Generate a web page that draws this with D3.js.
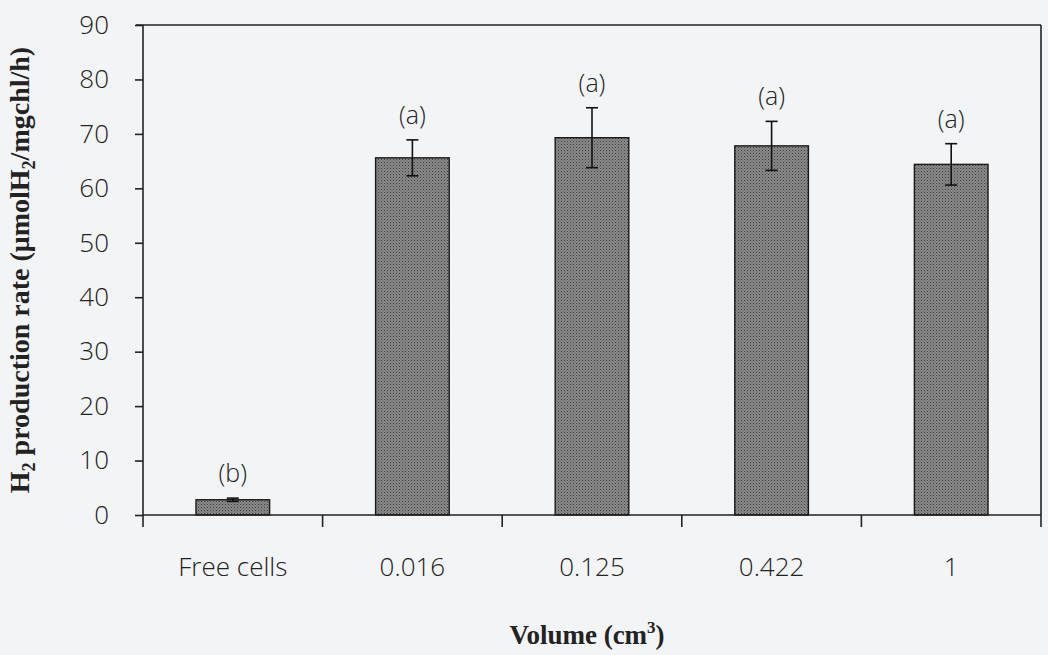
<!DOCTYPE html>
<html>
<head>
<meta charset="utf-8">
<script src="https://cdn.jsdelivr.net/npm/d3@7"></script>
<style>
  html, body { margin: 0; padding: 0; background: #f3f4f6; }
  svg { display: block; }
</style>
</head>
<body>
<svg id="chart" width="1048" height="655"></svg>
<script>
const categories = ["Free cells", "0.016", "0.125", "0.422", "1"];
const means = [2.8, 65.6, 69.3, 67.8, 64.4];
const errors = [0.3, 3.3, 5.5, 4.5, 3.8];
const letters = ["(b)", "(a)", "(a)", "(a)", "(a)"];
const yTicks = [0, 10, 20, 30, 40, 50, 60, 70, 80, 90];

(function () {
const svg = d3.select("#chart");
const pL = 143, pR = 1041, pT = 25, pB = 515;

const x = d3.scaleBand().domain(categories).range([pL, pR]).paddingInner(0.59).paddingOuter(0.295);
const xb = d3.scaleBand().domain(categories).range([pL, pR]);
const y = d3.scaleLinear().domain([0, 90]).range([pB, pT]);

const defs = svg.append("defs");
const pat = defs.append("pattern").attr("id", "stip").attr("width", 3).attr("height", 3)
  .attr("patternUnits", "userSpaceOnUse");
pat.append("rect").attr("width", 3).attr("height", 3).attr("fill", "#8a8a8a");
pat.append("rect").attr("x", 0).attr("y", 0).attr("width", 1).attr("height", 1).attr("fill", "#3e3e3e");
pat.append("rect").attr("x", 1.5).attr("y", 1.5).attr("width", 1).attr("height", 1).attr("fill", "#555");

const ink = "#222";
const tickFont = "'Open Sans', sans-serif";

// plot frame (top and right)
svg.append("line").attr("x1", pL - 7).attr("x2", pR).attr("y1", pT).attr("y2", pT)
  .attr("stroke", ink).attr("stroke-width", 1.6);
svg.append("line").attr("x1", pR).attr("x2", pR).attr("y1", pT).attr("y2", pB + 12)
  .attr("stroke", ink).attr("stroke-width", 1.6);

// bars
svg.append("g").selectAll("rect").data(categories).join("rect")
  .attr("x", d => x(d))
  .attr("y", (d, i) => y(means[i]))
  .attr("width", x.bandwidth())
  .attr("height", (d, i) => y(0) - y(means[i]))
  .attr("fill", "url(#stip)")
  .attr("stroke", "#1a1a1a").attr("stroke-width", 1.4);

// error bars
const eb = svg.append("g").attr("stroke", "#111").attr("stroke-width", 1.6);
categories.forEach((c, i) => {
  const cx = x(c) + x.bandwidth() / 2;
  const hi = y(means[i] + errors[i]), lo = y(means[i] - errors[i]);
  eb.append("line").attr("x1", cx).attr("x2", cx).attr("y1", hi).attr("y2", lo);
  eb.append("line").attr("x1", cx - 6).attr("x2", cx + 6).attr("y1", hi).attr("y2", hi);
  eb.append("line").attr("x1", cx - 6).attr("x2", cx + 6).attr("y1", lo).attr("y2", lo);
});

// letters
svg.append("g").selectAll("text").data(categories).join("text")
  .attr("x", d => x(d) + x.bandwidth() / 2)
  .attr("y", (d, i) => y(means[i] + errors[i]) - 16)
  .attr("text-anchor", "middle")
  .attr("font-family", tickFont)
  .attr("font-weight", 300)
  .attr("font-size", 25)
  .attr("fill", "#222")
  .text((d, i) => letters[i]);

// y axis
const yAxis = svg.append("g").attr("transform", `translate(${pL},0)`)
  .call(d3.axisLeft(y).tickValues(yTicks).tickSize(8).tickPadding(26).tickFormat(d3.format("d")));
yAxis.select(".domain").attr("stroke", ink).attr("stroke-width", 1.6).attr("d", `M0,${pT}V${pB + 12}`);
yAxis.selectAll(".tick line").attr("stroke", ink).attr("stroke-width", 1.6);
yAxis.selectAll(".tick text").attr("font-family", tickFont).attr("font-weight", 300).attr("font-size", 26)
  .attr("fill", "#222");

// x axis (ticks at band boundaries)
const bounds = categories.map(c => xb(c)).concat([pR]);
const xAxis = svg.append("g").attr("transform", `translate(0,${pB})`);
xAxis.append("line").attr("x1", pL).attr("x2", pR).attr("stroke", ink).attr("stroke-width", 1.6);
xAxis.selectAll("line.t").data(bounds.slice(1, -1)).join("line").attr("class", "t")
  .attr("x1", d => d).attr("x2", d => d).attr("y1", 0).attr("y2", 12)
  .attr("stroke", ink).attr("stroke-width", 1.6);
xAxis.selectAll("text").data(categories).join("text")
  .attr("x", d => xb(d) + xb.bandwidth() / 2)
  .attr("y", 61)
  .attr("text-anchor", "middle")
  .attr("font-family", tickFont)
  .attr("font-weight", 300)
  .attr("font-size", 26)
  .attr("fill", "#222")
  .text(d => d);

// axis titles
const yt = svg.append("text")
  .attr("transform", `translate(29,270) rotate(-90)`)
  .attr("text-anchor", "middle")
  .attr("font-family", "'Liberation Serif', 'Times New Roman', serif")
  .attr("font-weight", "bold")
  .attr("font-size", 28)
  .attr("fill", "#222");
yt.append("tspan").text("H");
yt.append("tspan").attr("font-size", 18).attr("dy", 6).text("2");
yt.append("tspan").attr("dy", -6).text(" production rate (μmolH");
yt.append("tspan").attr("font-size", 18).attr("dy", 6).text("2");
yt.append("tspan").attr("dy", -6).text("/mgchl/h)");

const xt = svg.append("text")
  .attr("x", 587).attr("y", 644)
  .attr("text-anchor", "middle")
  .attr("font-family", "'Liberation Serif', 'Times New Roman', serif")
  .attr("font-weight", "bold")
  .attr("font-size", 27)
  .attr("fill", "#222");
xt.append("tspan").text("Volume (cm");
xt.append("tspan").attr("font-size", 17).attr("dy", -11).text("3");
xt.append("tspan").attr("dy", 11).text(")");
})();
</script>
</body>
</html>
